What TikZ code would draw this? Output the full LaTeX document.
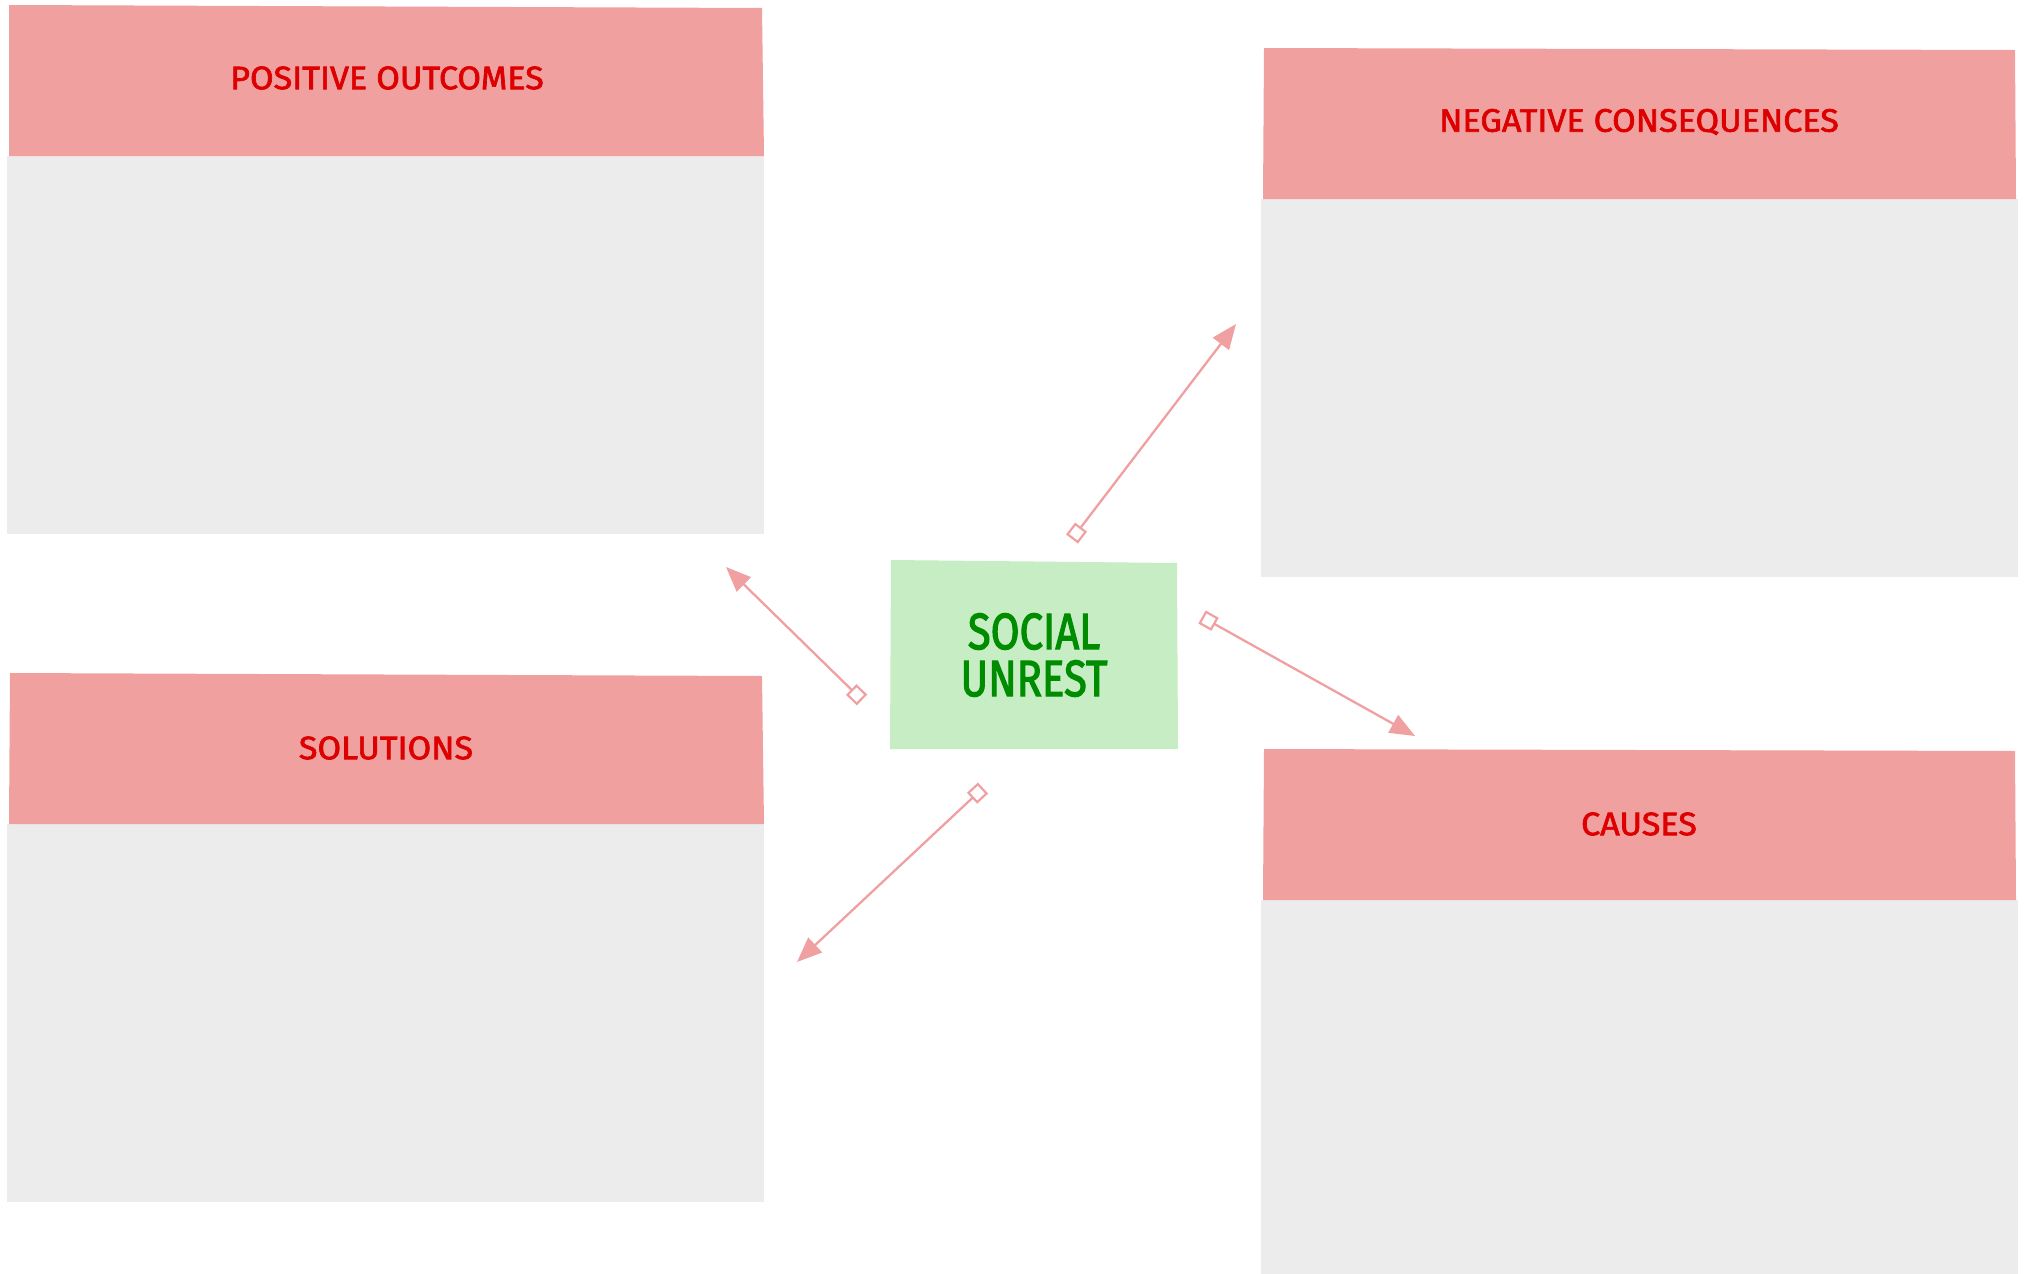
\documentclass[tikz,border=0pt]{standalone}
\usepackage{fontspec}
\usepackage{graphicx}
\setmainfont{Fira Sans}
\newfontfamily\hdrfont{Fira Sans}[FakeBold=2]
\newfontfamily\ctrfont{Fira Sans}[FakeBold=2.5]
\usetikzlibrary{arrows.meta}
\definecolor{hdr}{HTML}{F1A0A0}
\definecolor{bodyc}{HTML}{ECECEC}
\definecolor{grn}{HTML}{C6EDC3}
\definecolor{grntxt}{HTML}{008C00}
\definecolor{redtxt}{HTML}{DD0000}
\definecolor{arr}{HTML}{F0A0A0}
\newcommand{\hdrscale}[1]{\scalebox{1.05}[1]{#1}}
\newcommand{\ctrscale}[1]{\scalebox{0.82}[1]{#1}}
\begin{document}
\begin{tikzpicture}[x=1pt,y=-1pt,
  hdrtext/.style={text=redtxt,font=\hdrfont\fontsize{32.5}{32.5}\selectfont,inner sep=0pt},
  centertext/.style={text=grntxt,font=\ctrfont\fontsize{51}{47}\selectfont,align=center,inner sep=0pt},
  link/.style={draw=arr,line width=2.3pt,
    {Square[open,length=15pt,width=15pt,line width=2.2pt]}-{Triangle[length=25pt,width=20pt]}}]
\useasboundingbox (0,0) rectangle (2024,1274);
% Positive outcomes
\fill[bodyc] (7,156) rectangle (764,534);
\fill[hdr] (9,5) -- (762,8) -- (764,156) -- (9,156) -- cycle;
\node[hdrtext] (pos) at (387,78) {\hdrscale{POSITIVE OUTCOMES}};
% Negative consequences
\fill[bodyc] (1261,199) rectangle (2018,577);
\fill[hdr] (1264,48) -- (2015,50) -- (2016,199) -- (1263,199) -- cycle;
\node[hdrtext] (neg) at (1639,122) {\hdrscale{NEGATIVE CONSEQUENCES}};
% Solutions
\fill[bodyc] (7,824) rectangle (764,1202);
\fill[hdr] (10,673) -- (762,676) -- (764,824) -- (9,824) -- cycle;
\node[hdrtext] (sol) at (386,748) {\hdrscale{SOLUTIONS}};
% Causes
\fill[bodyc] (1261,900) rectangle (2018,1274);
\fill[hdr] (1264,749) -- (2015,751) -- (2016,900) -- (1263,900) -- cycle;
\node[hdrtext] (cau) at (1639,824) {\hdrscale{CAUSES}};
% Center
\fill[grn] (891,560) -- (1177,563) -- (1178,749) -- (890,749) -- cycle;
\node[centertext] (center) at (1034,655) {\ctrscale{SOCIAL}\\\ctrscale{UNREST}};
% Arrow ends
\coordinate (s1) at (862,700);  \coordinate (t1) at (726,567);
\coordinate (s2) at (1072,539); \coordinate (t2) at (1236,324);
\coordinate (s3) at (1202,617); \coordinate (t3) at (1415,736);
\coordinate (s4) at (983,788);  \coordinate (t4) at (797,962);
\draw[link] (s1) -- (t1);
\draw[link] (s2) -- (t2);
\draw[link] (s3) -- (t3);
\draw[link] (s4) -- (t4);
\end{tikzpicture}
\end{document}
